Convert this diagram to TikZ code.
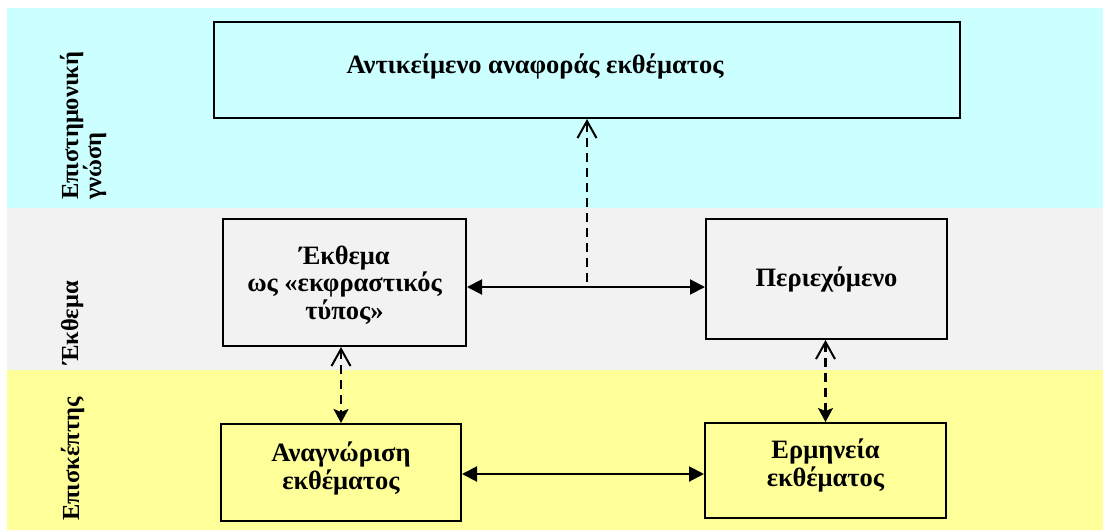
\documentclass[tikz,border=0pt]{standalone}
\usepackage{fontspec}
\setmainfont{Liberation Serif}
\usetikzlibrary{arrows.meta}
\definecolor{sciband}{RGB}{204,255,255}
\definecolor{exhband}{RGB}{242,242,242}
\definecolor{visband}{RGB}{255,255,153}
\begin{document}
\begin{tikzpicture}[x=1pt,y=-1pt,
  boxtext/.style={font=\bfseries\fontsize{26.5}{27.5}\selectfont, align=center, inner sep=0pt},
  box/.style={draw=black, line width=2pt, inner sep=0pt},
  lane/.style={rotate=90, anchor=base west, inner sep=0pt,
               font=\bfseries\fontsize{24.5}{24.5}\selectfont},
  link/.style={line width=2pt,
               {Triangle[length=15pt,width=15pt]}-{Triangle[length=15pt,width=15pt]}},
  tie/.style={line width=2.2pt, dash pattern=on 9pt off 6pt},
  opentip/.tip={Straight Barb[length=17pt,width=19pt,line width=2pt]},
  solidtip/.tip={Stealth[length=14pt,width=15pt,inset=3pt]},
 ]
\useasboundingbox (0,0) rectangle (1103,530);

% horizontal bands
\fill[sciband] (7,8) rectangle (1103,208);
\fill[exhband] (7,208) rectangle (1103,370);
\fill[visband] (7,370) rectangle (1103,530);

% band titles
\node[lane] (sci1) at (78,200) {Επιστημονική};
\node[lane] (sci2) at (101,200) {γνώση};
\node[lane] (exh) at (78,365) {Έκθεμα};
\node[lane] (vis) at (79,521) {Επισκέπτης};

% boxes
\node[box, minimum width=746pt, minimum height=96pt] (top) at (587,70) {};
\node[box, minimum width=243pt, minimum height=127pt] (lm) at (344.5,282.5) {};
\node[box, minimum width=241pt, minimum height=120pt] (rm) at (826.5,279) {};
\node[box, minimum width=240pt, minimum height=97pt] (bl) at (341,472.5) {};
\node[box, minimum width=241pt, minimum height=95pt] (br) at (825.5,470.5) {};

% box texts
\node[boxtext] (toptext) at (535,66.5) {Αντικείμενο αναφοράς εκθέματος};
\node[boxtext] (lmtext) at ([yshift=-2.5pt]lm.center) {Έκθεμα\\ως «εκφραστικός\\τύπος»};
\node[boxtext] (rmtext) at (rm.center) {Περιεχόμενο};
\node[boxtext] (bltext) at ([yshift=4pt]bl.center) {Αναγνώριση\\εκθέματος};
\node[boxtext] (brtext) at ([yshift=5pt]br.center) {Ερμηνεία\\εκθέματος};

% connectors
\coordinate (hmid) at (587,287);
\coordinate (dstart) at (587,282);
\coordinate (hlow) at (583,474);
\draw[link] (lm.east |- hmid) -- (rm.west |- hmid);
\draw[link] (bl.east |- hlow) -- (br.west |- hlow);
\draw[tie, -opentip] (dstart) -- (top.south);
\draw[tie, opentip-solidtip] (lm.south -| bl.north) -- (bl.north);
\draw[tie, opentip-solidtip] (rm.south -| br.north) -- (br.north);
\end{tikzpicture}
\end{document}
